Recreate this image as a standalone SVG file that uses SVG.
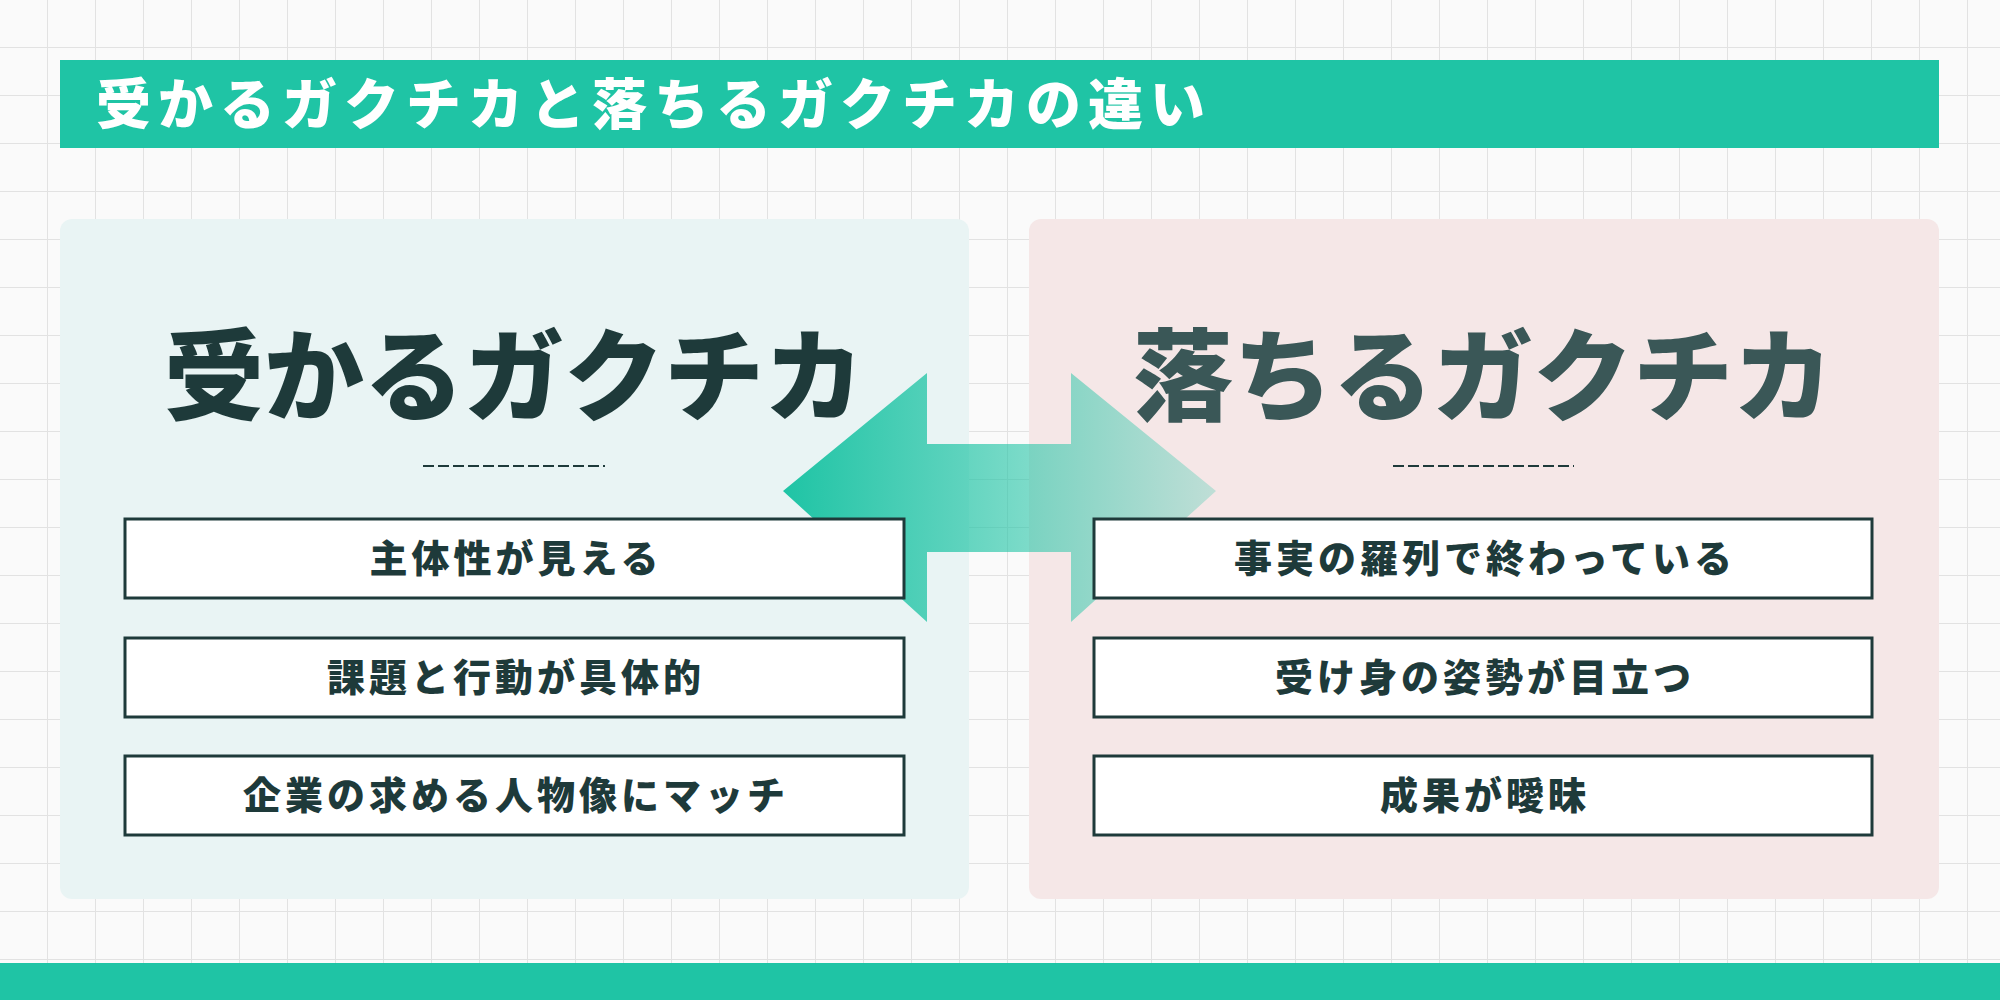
<svg xmlns="http://www.w3.org/2000/svg" width="2000" height="1000" viewBox="0 0 2000 1000">
<defs>
<pattern id="grid" width="48" height="48" patternUnits="userSpaceOnUse"><path d="M48 0V48H0" fill="none" stroke="#e2e2e2" stroke-width="2"/></pattern>
<linearGradient id="ag" x1="0" x2="1"><stop offset="0" stop-color="#1fc4a5"/><stop offset="1" stop-color="#1fc4a5" stop-opacity="0.25"/></linearGradient>
<style>
text{font-family:"Noto Sans CJK JP",sans-serif;font-weight:900;text-anchor:middle}
.box{fill:#fff;stroke:#1e3a3a;stroke-width:3}
.bt{font-size:38px;fill:#1e3a3a;letter-spacing:4px}
.dash{stroke:#1e3a3a;stroke-width:2;stroke-dasharray:11 4}
</style>
</defs>
<rect width="2000" height="1000" fill="#fafafa"/>
<rect width="2000" height="1000" fill="url(#grid)"/>
<g id="title"><rect x="60" y="60" width="1879" height="88" fill="#1fc4a5"/><text x="96" y="124" font-size="55" fill="#fff" letter-spacing="7" style="text-anchor:start">受かるガクチカと落ちるガクチカの違い</text></g>
<g id="left"><rect x="60" y="219" width="909" height="680" rx="12" fill="#e9f4f4"/>
<text x="514" y="413" font-size="100" fill="#1e3a3a">受かるガクチカ</text>
<line class="dash" x1="423" y1="466" x2="605" y2="466"/></g>
<g id="right"><rect x="1029" y="219" width="910" height="680" rx="12" fill="#f5e7e7"/>
<text x="1483" y="413" font-size="100" fill="#3a5757">落ちるガクチカ</text>
<line class="dash" x1="1393" y1="466" x2="1574" y2="466"/></g>
<g id="connectors"><polygon points="783,491 927,373 927,444 1071,444 1071,373 1216,491 1071,622 1071,552 927,552 927,622" fill="url(#ag)"/></g>
<g id="l1"><rect class="box" x="125" y="519" width="779" height="79"/><text class="bt" x="516" y="572">主体性が見える</text></g>
<g id="l2"><rect class="box" x="125" y="638" width="779" height="79"/><text class="bt" x="516" y="691">課題と行動が具体的</text></g>
<g id="l3"><rect class="box" x="125" y="756" width="779" height="79"/><text class="bt" x="516" y="809">企業の求める人物像にマッチ</text></g>
<g id="r1"><rect class="box" x="1094" y="519" width="778" height="79"/><text class="bt" x="1485" y="572">事実の羅列で終わっている</text></g>
<g id="r2"><rect class="box" x="1094" y="638" width="778" height="79"/><text class="bt" x="1485" y="691">受け身の姿勢が目立つ</text></g>
<g id="r3"><rect class="box" x="1094" y="756" width="778" height="79"/><text class="bt" x="1485" y="809">成果が曖昧</text></g>
<rect x="0" y="963" width="2000" height="37" fill="#1fc4a5"/>
</svg>
